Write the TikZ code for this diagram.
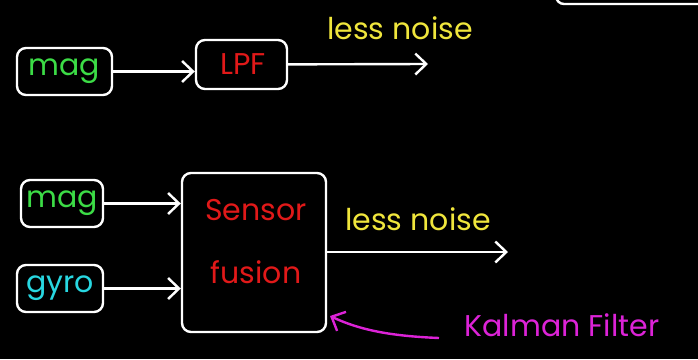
\documentclass[tikz,border=0pt]{standalone}
\usepackage{fontspec}
\setmainfont{Poppins}
\usetikzlibrary{arrows.meta}

\definecolor{chalkgreen}{RGB}{60,220,70}
\definecolor{chalkred}{RGB}{225,25,25}
\definecolor{chalkcyan}{RGB}{40,215,225}
\definecolor{chalkyellow}{RGB}{240,230,60}
\definecolor{chalkpink}{RGB}{220,35,215}

\begin{document}
\begin{tikzpicture}[x=1pt,y=-1pt,
    blk/.style={draw=white,line width=2.4pt,rounded corners=9pt,inner sep=0pt},
    txt/.style={font=\fontsize{30}{36}\selectfont},
    white,line width=2.4pt,->,>={Straight Barb[length=11pt,width=21pt]}]
    % board
    \fill[black] (0,0) rectangle (698,359);
    \useasboundingbox (0,0) rectangle (698,359);
    % edge of a box above the board
    \draw[-,rounded corners=8pt] (556,-12) |- (705,4);

    % magnetometer through a low pass filter
    \node[blk,minimum width=95,minimum height=47] (mag1) at (64.5,71.5) {};
    \node[txt,chalkgreen] (mag1t) at (64.5,71) {mag};
    \node[blk,minimum width=91,minimum height=49] (lpf) at (241.5,64.5) {};
    \node[txt,chalkred] (lpft) at (243,64) {LPF};
    \coordinate (out1) at (428,64);
    \draw (mag1) -- (lpf.west |- mag1);
    \draw (lpf) -- (out1);
    \node[txt,chalkyellow] (noise1) at (400,28) {less noise};

    % magnetometer and gyro combined
    \node[blk,minimum width=82,minimum height=47] (mag2) at (62,203.5) {};
    \node[txt,chalkgreen] (mag2t) at (62,203) {mag};
    \node[blk,minimum width=86,minimum height=47] (gyro) at (60,288.5) {};
    \node[txt,chalkcyan] (gyrot) at (60,288) {gyro};
    \node[blk,minimum width=144,minimum height=159] (fusion) at (254,252.5) {};
    \node[txt,chalkred,align=center,font=\fontsize{30}{63}\selectfont]
        (fusiont) at (256,242) {Sensor\\fusion};
    \coordinate (out2) at (508,252);
    \draw (mag2) -- (fusion.west |- mag2);
    \draw (gyro) -- (fusion.west |- gyro);
    \draw (fusion.east |- out2) -- (out2);
    \node[txt,chalkyellow] (noise2) at (418,219) {less noise};

    % pointer to the fusion block
    \node[txt,chalkpink] (kalman) at (562,325) {Kalman Filter};
    \coordinate (kf) at (439,338);
    \draw[chalkpink] (kf) .. controls (390,336) and (360,330) .. (330,316);
\end{tikzpicture}
\end{document}
